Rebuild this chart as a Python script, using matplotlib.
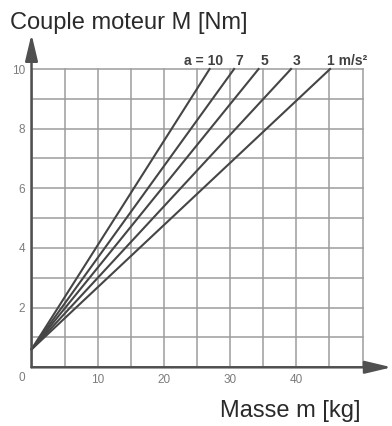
import matplotlib.pyplot as plt
from matplotlib.patches import ArrowStyle

plt.rcParams['font.family'] = ['Liberation Sans', 'DejaVu Sans']

# acceleration curves: torque rises from M0 at m=0 to 10 Nm at m_end
accel = [10, 7, 5, 3, 1]
accel_labels = ['a = 10', '7', '5', '3', '1 m/s²']
m_start = [0, 0, 0, 0, 0]
m_end = [26.9, 30.6, 34.3, 39.2, 45.1]
torque_start = [0.6, 0.6, 0.6, 0.6, 0.6]
torque_end = [10, 10, 10, 10, 10]

x_ticks = list(range(0, 51, 5))
x_tick_labels = ['', '', '10', '', '20', '', '30', '', '40', '', '']
y_ticks = list(range(0, 11))
y_tick_labels = ['', '', '2', '', '4', '', '6', '', '8', '', '10']

fig = plt.figure(figsize=(3.92, 4.26), dpi=100)
ax = fig.add_axes([0.0804, 0.1378, 0.8444, 0.7002])
ax.set_xlim(0, 50)
ax.set_ylim(0, 10)

ax.set_xticks(x_ticks)
ax.set_xticklabels(x_tick_labels)
ax.set_yticks(y_ticks)
ax.set_yticklabels(y_tick_labels)
ax.tick_params(length=0, labelsize=8.5, labelcolor='#7c7c7c')
ax.tick_params(axis='x', pad=4.5)
ax.tick_params(axis='y', pad=4.5)
ax.grid(True, color='#9c9c9c', linewidth=1.1)
for gl in ax.get_xgridlines() + ax.get_ygridlines():
    gl.set_clip_on(False)
for sp in ax.spines.values():
    sp.set_visible(False)

# axes with arrow heads
arrow_kw = dict(arrowstyle=ArrowStyle('-|>', head_length=16, head_width=3.8),
                mutation_scale=1, color='#505050', lw=1.8, shrinkA=0, shrinkB=0)
ax.annotate('', xy=(0, 11.17), xytext=(0, 0), arrowprops=arrow_kw, annotation_clip=False)
ax.annotate('', xy=(54.4, 0), xytext=(0, 0), arrowprops=arrow_kw, annotation_clip=False)
ax.annotate('0', xy=(0, 0), xytext=(-10, -11), textcoords='offset pixels',
            ha='center', va='center', fontsize=8.5, color='#7c7c7c', annotation_clip=False)

label_offsets = [14, 5, 6, 6, -3]
label_ha = ['right', 'center', 'center', 'center', 'left']
for i in range(len(accel)):
    ax.plot([m_start[i], m_end[i]], [torque_start[i], torque_end[i]],
            color='#454545', linewidth=1.5, clip_on=False)
    ax.annotate(accel_labels[i], xy=(m_end[i], torque_end[i]),
                xytext=(label_offsets[i], 4), textcoords='offset pixels',
                ha=label_ha[i], va='baseline', fontsize=10, fontweight='bold',
                color='#404040', annotation_clip=False)

fig.text(10 / 392, 1 - 29 / 426, 'Couple moteur M [Nm]', fontsize=17,
         color='#2a2a2a', va='baseline', ha='left')
fig.text(220 / 392, 1 - 417 / 426, 'Masse m [kg]', fontsize=17,
         color='#2a2a2a', va='baseline', ha='left')

fig.savefig('out.png', dpi=100)
